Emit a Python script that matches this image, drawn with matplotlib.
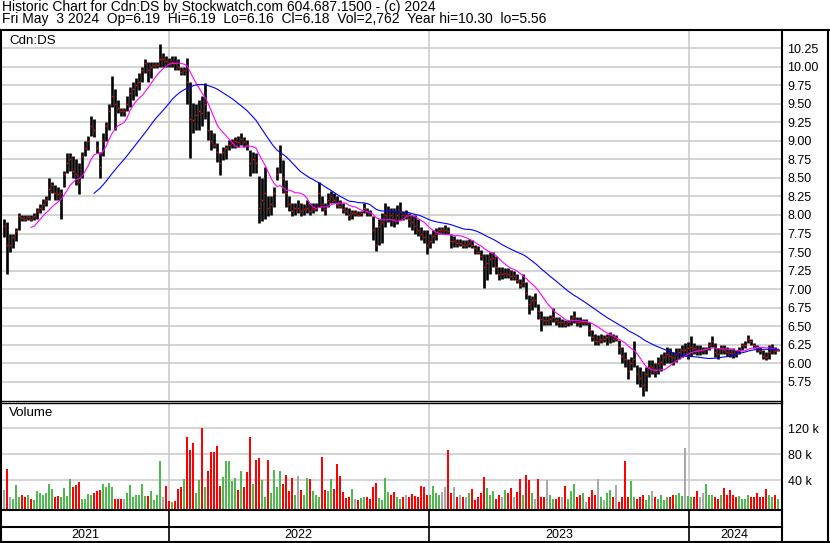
import numpy as np
import pandas as pd
import matplotlib
matplotlib.use("Agg")
import matplotlib.pyplot as plt

# ---- data (one bar ~ every 3 trading days) ----
highs = [
    7.95, 7.90, 7.75, 7.75, 7.82, 8.02, 8.00, 8.00, 8.00, 8.00,
    8.02, 8.09, 8.15, 8.22, 8.25, 8.50, 8.45, 8.40, 8.38, 8.35,
    8.60, 8.83, 8.83, 8.80, 8.75, 8.70, 8.85, 9.00, 9.06, 9.33,
    9.30, 9.00, 8.85, 9.10, 9.25, 9.50, 9.87, 9.70, 9.55, 9.44,
    9.45, 9.60, 9.73, 9.80, 9.85, 9.91, 10.00, 10.11, 10.07, 10.07,
    10.07, 10.07, 10.31, 10.18, 10.15, 10.12, 10.14, 10.14, 10.10, 10.00,
    10.00, 10.12, 9.80, 9.51, 9.50, 9.55, 9.60, 9.78, 9.40, 9.15,
    9.10, 8.97, 8.83, 8.92, 8.95, 9.01, 9.03, 9.05, 9.06, 9.10,
    9.05, 9.01, 8.88, 8.85, 8.83, 8.52, 8.50, 8.65, 8.25, 8.25,
    8.38, 8.65, 8.95, 8.74, 8.47, 8.25, 8.16, 8.16, 8.20, 8.16,
    8.15, 8.20, 8.16, 8.16, 8.16, 8.45, 8.25, 8.16, 8.29, 8.32,
    8.30, 8.25, 8.20, 8.16, 8.11, 8.09, 8.07, 8.07, 8.05, 8.06,
    8.16, 8.09, 8.07, 7.98, 7.84, 7.95, 8.02, 8.16, 8.12, 8.10,
    8.10, 8.14, 8.18, 8.05, 8.07, 8.02, 8.00, 8.00, 7.95, 7.84,
    7.80, 7.80, 7.75, 7.80, 7.82, 7.84, 7.84, 7.86, 7.84, 7.75,
    7.72, 7.68, 7.68, 7.66, 7.66, 7.68, 7.66, 7.60, 7.58, 7.53,
    7.48, 7.48, 7.50, 7.50, 7.44, 7.30, 7.30, 7.28, 7.28, 7.26,
    7.24, 7.20, 7.14, 7.21, 7.10, 6.92, 6.90, 6.95, 6.80, 6.70,
    6.63, 6.63, 6.65, 6.75, 6.62, 6.62, 6.60, 6.58, 6.58, 6.65,
    6.70, 6.62, 6.62, 6.60, 6.60, 6.55, 6.45, 6.40, 6.38, 6.40,
    6.38, 6.40, 6.42, 6.40, 6.38, 6.31, 6.22, 6.15, 6.05, 6.09,
    6.30, 5.98, 5.95, 5.90, 5.95, 6.04, 6.04, 6.00, 6.09, 6.12,
    6.15, 6.22, 6.20, 6.15, 6.20, 6.20, 6.25, 6.27, 6.29, 6.36,
    6.27, 6.25, 6.24, 6.22, 6.22, 6.28, 6.36, 6.27, 6.20, 6.24,
    6.25, 6.22, 6.20, 6.20, 6.18, 6.22, 6.27, 6.30, 6.38, 6.33,
    6.27, 6.25, 6.22, 6.18, 6.15, 6.24, 6.26, 6.22, 6.19,
]
lows = [
    7.70, 7.20, 7.50, 7.55, 7.65, 7.80, 7.92, 7.92, 7.93, 7.92,
    7.93, 7.95, 8.02, 8.07, 8.12, 8.20, 8.30, 8.20, 8.20, 7.95,
    8.38, 8.56, 8.60, 8.50, 8.40, 8.28, 8.50, 8.80, 8.88, 9.06,
    9.05, 8.83, 8.50, 8.80, 9.00, 9.15, 9.46, 9.15, 9.37, 9.33,
    9.33, 9.40, 9.46, 9.55, 9.60, 9.69, 9.80, 9.91, 9.80, 9.85,
    9.98, 9.98, 10.00, 10.00, 10.00, 10.00, 10.00, 9.96, 9.96, 9.89,
    9.89, 9.50, 8.77, 9.10, 9.15, 9.15, 9.20, 9.30, 9.01, 8.88,
    8.90, 8.72, 8.54, 8.74, 8.76, 8.88, 8.90, 8.90, 8.92, 8.95,
    8.92, 8.88, 8.52, 8.56, 8.56, 7.89, 7.92, 7.95, 7.98, 8.00,
    8.11, 8.47, 8.56, 8.29, 8.11, 8.05, 7.98, 8.00, 8.02, 7.98,
    8.00, 8.02, 8.00, 8.02, 8.05, 8.11, 8.05, 8.00, 8.11, 8.16,
    8.16, 8.10, 8.09, 8.02, 8.00, 7.93, 7.95, 7.98, 7.98, 7.98,
    8.02, 7.98, 7.98, 7.66, 7.51, 7.60, 7.62, 7.84, 7.90, 7.85,
    7.84, 7.88, 7.93, 7.93, 7.95, 7.84, 7.80, 7.75, 7.71, 7.66,
    7.62, 7.48, 7.55, 7.62, 7.66, 7.75, 7.75, 7.75, 7.75, 7.55,
    7.57, 7.57, 7.58, 7.55, 7.55, 7.57, 7.55, 7.48, 7.48, 7.39,
    7.01, 7.12, 7.20, 7.30, 7.21, 7.12, 7.14, 7.15, 7.15, 7.12,
    7.12, 7.08, 7.01, 7.03, 6.86, 6.67, 6.72, 6.76, 6.60, 6.43,
    6.52, 6.52, 6.52, 6.55, 6.52, 6.49, 6.49, 6.49, 6.50, 6.52,
    6.54, 6.50, 6.49, 6.52, 6.52, 6.36, 6.30, 6.25, 6.24, 6.27,
    6.28, 6.25, 6.27, 6.29, 6.30, 6.13, 6.00, 5.95, 5.78, 5.91,
    5.95, 5.72, 5.68, 5.56, 5.62, 5.82, 5.86, 5.82, 5.86, 5.90,
    5.98, 6.00, 6.00, 5.98, 6.02, 6.06, 6.08, 6.10, 6.05, 6.10,
    6.13, 6.11, 6.11, 6.13, 6.13, 6.18, 6.22, 6.08, 6.06, 6.12,
    6.13, 6.10, 6.09, 6.07, 6.08, 6.12, 6.18, 6.20, 6.27, 6.25,
    6.20, 6.15, 6.12, 6.05, 6.04, 6.05, 6.12, 6.12, 6.16,
]
closes = [
    7.85, 7.60, 7.60, 7.70, 7.78, 7.98, 7.96, 7.95, 7.97, 7.95,
    7.98, 8.05, 8.10, 8.15, 8.20, 8.35, 8.40, 8.30, 8.28, 8.30,
    8.55, 8.70, 8.75, 8.60, 8.55, 8.45, 8.80, 8.90, 9.00, 9.20,
    9.15, 8.90, 8.65, 9.00, 9.20, 9.40, 9.60, 9.50, 9.45, 9.40,
    9.40, 9.50, 9.65, 9.70, 9.75, 9.80, 9.95, 10.05, 9.95, 10.00,
    10.02, 10.03, 10.10, 10.10, 10.08, 10.05, 10.07, 10.05, 10.00, 9.93,
    9.95, 9.80, 9.30, 9.28, 9.35, 9.40, 9.38, 9.50, 9.15, 9.00,
    8.95, 8.85, 8.70, 8.85, 8.90, 8.95, 8.97, 9.00, 8.98, 9.02,
    8.98, 8.95, 8.70, 8.75, 8.70, 8.10, 8.20, 8.30, 8.10, 8.15,
    8.30, 8.55, 8.80, 8.50, 8.30, 8.15, 8.05, 8.10, 8.10, 8.05,
    8.08, 8.10, 8.05, 8.08, 8.10, 8.30, 8.15, 8.08, 8.20, 8.25,
    8.20, 8.15, 8.12, 8.08, 8.05, 8.00, 8.02, 8.02, 8.00, 8.02,
    8.10, 8.04, 8.02, 7.80, 7.60, 7.85, 7.90, 8.00, 8.05, 8.00,
    7.95, 8.00, 8.05, 8.00, 8.00, 7.95, 7.90, 7.85, 7.80, 7.75,
    7.70, 7.60, 7.65, 7.72, 7.75, 7.80, 7.80, 7.80, 7.78, 7.65,
    7.65, 7.62, 7.62, 7.60, 7.60, 7.62, 7.60, 7.55, 7.50, 7.45,
    7.30, 7.35, 7.40, 7.42, 7.30, 7.20, 7.20, 7.22, 7.20, 7.18,
    7.18, 7.12, 7.05, 7.10, 6.95, 6.80, 6.85, 6.85, 6.70, 6.60,
    6.58, 6.58, 6.60, 6.62, 6.58, 6.55, 6.55, 6.52, 6.55, 6.60,
    6.62, 6.56, 6.55, 6.56, 6.56, 6.45, 6.35, 6.30, 6.30, 6.32,
    6.32, 6.35, 6.38, 6.33, 6.33, 6.22, 6.10, 6.05, 5.90, 6.00,
    6.05, 5.85, 5.80, 5.70, 5.85, 5.95, 5.95, 5.92, 6.00, 6.02,
    6.08, 6.12, 6.10, 6.08, 6.12, 6.15, 6.18, 6.18, 6.20, 6.22,
    6.20, 6.18, 6.18, 6.18, 6.19, 6.24, 6.30, 6.15, 6.12, 6.20,
    6.18, 6.15, 6.14, 6.13, 6.12, 6.18, 6.24, 6.25, 6.32, 6.30,
    6.24, 6.20, 6.16, 6.10, 6.08, 6.15, 6.20, 6.16, 6.18,
]
volume_k = [
    25, 58, 15, 12, 33, 15, 18, 14, 17, 12,
    10, 24, 20, 17, 21, 34, 26, 15, 16, 15,
    28, 16, 42, 30, 33, 38, 12, 12, 19, 18,
    20, 23, 25, 35, 29, 36, 29, 12, 12, 11,
    12, 20, 33, 15, 18, 17, 35, 16, 16, 24,
    10, 18, 70, 14, 31, 8, 7, 8, 27, 30,
    42, 106, 87, 98, 20, 40, 121, 30, 55, 83,
    84, 93, 31, 45, 70, 69, 39, 43, 25, 55,
    30, 53, 106, 35, 72, 74, 41, 15, 72, 21,
    56, 29, 54, 35, 48, 24, 43, 17, 46, 25,
    18, 44, 42, 23, 17, 14, 76, 25, 24, 42,
    26, 65, 47, 22, 13, 15, 27, 12, 10, 13,
    15, 14, 12, 30, 36, 13, 10, 43, 22, 17,
    22, 15, 11, 15, 17, 15, 19, 16, 15, 31,
    29, 17, 17, 32, 20, 17, 22, 29, 87, 20,
    30, 15, 17, 15, 14, 20, 26, 10, 15, 20,
    45, 28, 17, 23, 12, 18, 14, 25, 20, 28,
    15, 22, 42, 17, 48, 40, 20, 12, 42, 15,
    15, 40, 17, 11, 12, 15, 14, 31, 12, 23,
    35, 15, 17, 21, 6, 15, 25, 17, 42, 15,
    10, 20, 25, 15, 33, 6, 15, 70, 15, 39,
    15, 12, 15, 17, 10, 17, 24, 15, 12, 17,
    10, 15, 15, 17, 17, 21, 16, 90, 16, 15,
    15, 23, 15, 20, 35, 17, 17, 15, 12, 17,
    28, 17, 25, 17, 15, 16, 12, 12, 17, 15,
    15, 20, 15, 15, 26, 17, 15, 17, 12,
]
price_ticks = [5.75, 6.00, 6.25, 6.50, 6.75, 7.00, 7.25, 7.50, 7.75, 8.00,
               8.25, 8.50, 8.75, 9.00, 9.25, 9.50, 9.75, 10.00, 10.25]
vol_ticks = [40, 80, 120]
header1 = "Historic Chart for Cdn:DS by Stockwatch.com 604.687.1500 - (c) 2024"
header2 = "Fri May  3 2024  Op=6.19  Hi=6.19  Lo=6.16  Cl=6.18  Vol=2,762  Year hi=10.30  lo=5.56"

# ---- x positions: weekday index, one bar every 3 weekdays ----
n = len(closes)
step = 3
weekdays = pd.bdate_range(end="2024-05-03", periods=step * (n - 1) + 1)
dates = weekdays[::step]
pos = np.arange(n) * step
years = sorted(set(dates.year))
bounds = [int(weekdays.searchsorted(pd.Timestamp(y, 1, 1))) - 0.5 for y in years[1:]]

closes_s = pd.Series(closes)
ma_fast = closes_s.rolling(10).mean()
ma_slow = closes_s.rolling(31).mean()

chg = np.diff(np.array(closes), prepend=closes[0])
GREEN, RED, GREY = "#4fb84f", "#ff0000", "#a8a8a8"
vcolors = np.where(chg > 0, GREEN, np.where(chg < 0, RED, GREY))

W, H = 830, 543
GRID = "#c8c8c8"
XLIM = (-2, 776)
plt.rcParams["font.family"] = ["Liberation Sans", "DejaVu Sans"]

fig = plt.figure(figsize=(W / 100, H / 100), dpi=100)


def px_rect(x0, y0, x1, y1):
    return [x0 / W, 1 - y1 / H, (x1 - x0) / W, (y1 - y0) / H]


ax = fig.add_axes(px_rect(2, 31, 780.5, 400))
axv = fig.add_axes(px_rect(2, 403, 780.5, 509.5))
axs = fig.add_axes(px_rect(2, 510, 780.5, 542))

# price panel
ax.set_xlim(*XLIM)
ax.set_ylim(5.503, 10.483)
for p in price_ticks:
    ax.axhline(p, color=GRID, lw=1.1, zorder=0)
for b in bounds:
    ax.axvline(b, color=GRID, lw=1.1, zorder=0)
ax.vlines(pos, lows, highs, color="black", lw=1.9, zorder=2)
ax.plot(pos - 0.5, closes, "s", ms=1.1, mew=0, color="red", zorder=3)
ax.plot(pos, ma_fast, color="#ff00ff", lw=0.8, zorder=4)
ax.plot(pos, ma_slow, color="#0000ff", lw=0.8, zorder=4)
ax.set_xticks([])
ax.set_yticks(price_ticks)
ax.set_yticklabels([f"{p:.2f}" for p in price_ticks])
ax.tick_params(axis="y", left=False, right=False, labelleft=False,
               labelright=True, pad=1.5, labelsize=9)

# volume panel
vlo = -4.9
axv.set_xlim(*XLIM)
axv.set_ylim(vlo, 159.0)
for v in vol_ticks:
    axv.axhline(v, color=GRID, lw=1.1, zorder=0)
for b in bounds:
    axv.axvline(b, color=GRID, lw=1.1, zorder=0)
axv.bar(pos, np.array(volume_k) - vlo, bottom=vlo, width=2.0,
        color=vcolors, linewidth=0, zorder=2)
axv.set_xticks([])
axv.set_yticks(vol_ticks)
axv.set_yticklabels([f"{v} k" for v in vol_ticks])
axv.tick_params(axis="y", left=False, right=False, labelleft=False,
                labelright=True, pad=2.0, labelsize=9)

# year strip
axs.set_xlim(*XLIM)
axs.set_ylim(0, 1)
axs.set_xticks([])
axs.set_yticks([])
edges = [XLIM[0]] + bounds + [XLIM[1]]
for b in bounds:
    axs.axvline(b, color="black", lw=1.2)
for y, a, b in zip(years, edges[:-1], edges[1:]):
    axs.text((a + b) / 2, 0.23, str(y), ha="center", va="center", fontsize=9)

for a in (ax, axv, axs):
    for s in a.spines.values():
        s.set_visible(False)
    a.patch.set_alpha(0)

# frame, separators and header text in pixel coordinates
over = fig.add_axes([0, 0, 1, 1], zorder=10)
over.set_xlim(0, W)
over.set_ylim(H, 0)
over.axis("off")
lw2 = 1.5
over.plot([0, W], [30.3, 30.3], color="black", lw=lw2)
over.plot([0, W], [541.8, 541.8], color="black", lw=lw2)
over.plot([1, 1], [30, 543], color="black", lw=lw2)
over.plot([828, 828], [30, 543], color="black", lw=lw2)
over.plot([781.5, 781.5], [30, 543], color="black", lw=lw2)
over.plot([0, 781.5], [400.5, 400.5], color="black", lw=1.0)
over.plot([0, 781.5], [402.5, 402.5], color="black", lw=1.0)
over.plot([0, 781.5], [510.2, 510.2], color="black", lw=lw2)
over.plot([0, 781.5], [527, 527], color="black", lw=lw2)

over.text(2, 11, header1, fontsize=10, va="baseline", ha="left")
over.text(2, 23.5, header2, fontsize=10, va="baseline", ha="left")
over.text(9, 44, "Cdn:DS", fontsize=9.6, va="baseline", ha="left")
over.text(9, 416, "Volume", fontsize=9.6, va="baseline", ha="left")

fig.savefig("out.png", dpi=100)
